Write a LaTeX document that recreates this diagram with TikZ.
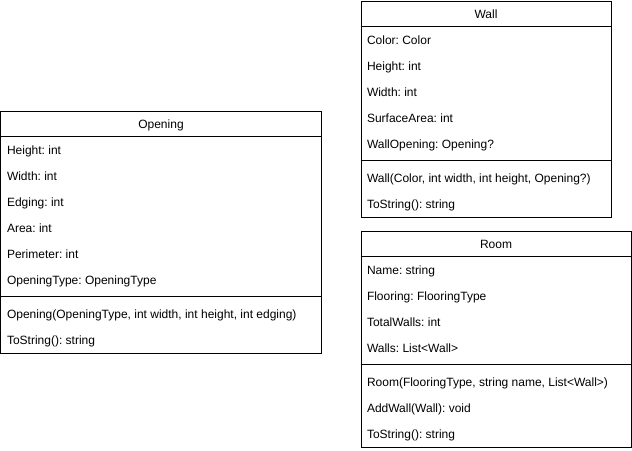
\documentclass[tikz,border=0pt]{standalone}
\usepackage{fontspec}
\setmainfont{Liberation Sans}
\frenchspacing

\begin{document}
\begin{tikzpicture}[
  x=1pt, y=-1pt, line width=1pt,
  font=\fontsize{12}{14}\selectfont,
  classbox/.style 2 args={draw, anchor=north west, inner sep=0, minimum width=#1, minimum height=#2},
  classname/.style={inner sep=0, text height=8.6pt, text depth=0pt},
  member/.style={anchor=west, inner sep=0, text height=8.6pt, text depth=0pt}
]
\useasboundingbox (-0.5,-0.5) rectangle (631.5,449.5);

% Wall
\node[classbox={250}{216}] (wall) at (360,0) {};
\node[classname] (wallname) at ([yshift=-13.5pt]wall.north) {Wall};
\draw ([yshift=-26pt]wall.north west) -- ([yshift=-26pt]wall.north east);
\node[member] (wallcolor) at (366,40) {Color: Color};
\node[member] (wallheight) at (366,66) {Height: int};
\node[member] (wallwidth) at (366,92) {Width: int};
\node[member] (wallarea) at (366,118) {SurfaceArea: int};
\node[member] (wallopening) at (366,144) {WallOpening: Opening?};
\draw ([yshift=-160pt]wall.north west) -- ([yshift=-160pt]wall.north east);
\node[member] (wallctor) at (366,178) {Wall(Color, int width, int height, Opening?)};
\node[member] (walltostring) at (366,204) {ToString(): string};

% Opening
\node[classbox={320}{242}] (opening) at (0,110) {};
\node[classname] (openingname) at ([yshift=-13.5pt]opening.north) {Opening};
\draw ([yshift=-26pt]opening.north west) -- ([yshift=-26pt]opening.north east);
\node[member] (openingheight) at (6,150) {Height: int};
\node[member] (openingwidth) at (6,176) {Width: int};
\node[member] (openingedging) at (6,202) {Edging: int};
\node[member] (openingarea) at (6,228) {Area: int};
\node[member] (openingperimeter) at (6,254) {Perimeter: int};
\node[member] (openingtype) at (6,280) {OpeningType: OpeningType};
\draw ([yshift=-186pt]opening.north west) -- ([yshift=-186pt]opening.north east);
\node[member] (openingctor) at (6,314) {Opening(OpeningType, int width, int height, int edging)};
\node[member] (openingtostring) at (6,340) {ToString(): string};

% Room
\node[classbox={270}{216}] (room) at (360,230) {};
\node[classname] (roomname) at ([yshift=-13.5pt]room.north) {Room};
\draw ([yshift=-26pt]room.north west) -- ([yshift=-26pt]room.north east);
\node[member] (roomnamefield) at (366,270) {Name: string};
\node[member] (roomflooring) at (366,296) {Flooring: FlooringType};
\node[member] (roomtotal) at (366,322) {TotalWalls: int};
\node[member] (roomwalls) at (366,348) {Walls: List<Wall>};
\draw ([yshift=-134pt]room.north west) -- ([yshift=-134pt]room.north east);
\node[member] (roomctor) at (366,382) {Room(FlooringType, string name, List<Wall>)};
\node[member] (roomaddwall) at (366,408) {AddWall(Wall): void};
\node[member] (roomtostring) at (366,434) {ToString(): string};
\end{tikzpicture}
\end{document}
